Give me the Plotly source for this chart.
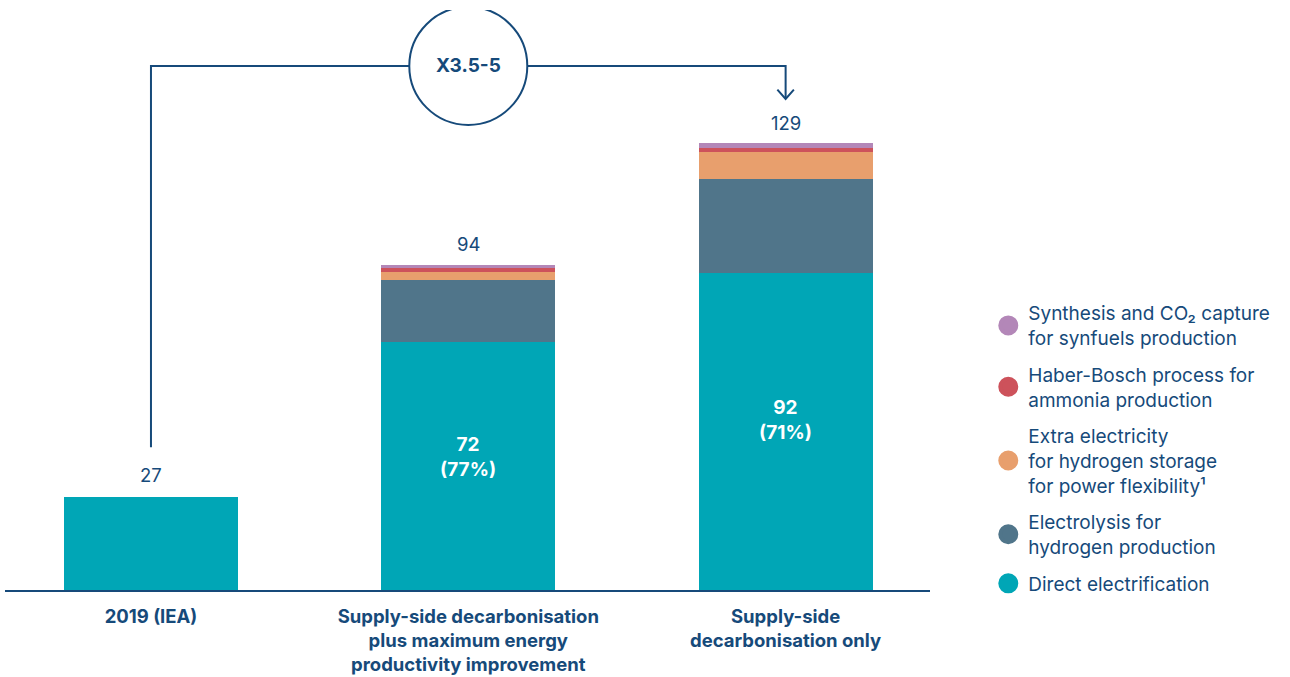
import plotly.graph_objects as go

categories = ["2019 (IEA)",
              "Supply-side decarbonisation<br>plus maximum energy<br>productivity improvement",
              "Supply-side<br>decarbonisation only"]
direct = [27, 72, 92]
electrolysis = [0, 17.8, 27.2]
extra_elec = [0, 2.3, 7.8]
haber = [0, 1.1, 1.1]
synthesis = [0, 0.9, 1.4]
totals = [27, 94, 129]
shares = ["", "77%", "71%"]
multiplier = "X3.5-5"

series = [
    ("Direct electrification", direct, "#00a6b6"),
    ("Electrolysis for<br>hydrogen production", electrolysis, "#50758a"),
    ("Extra electricity<br>for hydrogen storage<br>for power flexibility¹", extra_elec, "#e89f6d"),
    ("Haber-Bosch process for<br>ammonia production", haber, "#cd525b"),
    ("Synthesis and CO₂ capture<br>for synfuels production", synthesis, "#b387b8"),
]

DARK = "#164a7a"
FONT = "Inter"
xs = list(range(len(categories)))

fig = go.Figure()
for name, vals, col in series:
    fig.add_trace(go.Bar(x=xs, y=vals, marker=dict(color=col, line=dict(width=0)),
                         width=0.548, showlegend=False, hoverinfo="skip"))
# legend-only circle markers, top item first
for k, (name, vals, col) in enumerate(reversed(series)):
    fig.add_trace(go.Scatter(x=[None], y=[None], mode="markers", name=name,
                             legendgroup=f"g{k}",
                             marker=dict(symbol="circle", size=22, color=col,
                                         line=dict(width=4, color=col))))

ann = []
for i, t in enumerate(totals):
    ann.append(dict(x=xs[i], y=t, xref="x", yref="y", text=str(t), showarrow=False,
                    yanchor="bottom", yshift=9, font=dict(family=FONT, size=18.5, color=DARK)))
for i, s in enumerate(shares):
    if s:
        ann.append(dict(x=xs[i], y=direct[i] * 0.535, xref="x", yref="y",
                        text=f"<b>{direct[i]}<br>({s})</b>", showarrow=False,
                        font=dict(family=FONT, size=19, color="white")))
ann.append(dict(x=1, y=151.9, xref="x", yref="y", text=f"<b>{multiplier}</b>", showarrow=False,
                font=dict(family=FONT, size=19, color=DARK)))

shapes = [
    dict(type="path", xref="x", yref="y",
         path="M 0,41.4 L 0,151.9 L 2,151.9 L 2,142.6",
         line=dict(color=DARK, width=2)),
    dict(type="path", xref="x", yref="y",
         path="M 1.974,145 L 2,142.3 L 2.026,145",
         line=dict(color=DARK, width=2)),
    dict(type="circle", xref="x", yref="y", xsizemode="pixel", ysizemode="pixel",
         xanchor=1, yanchor=151.9, x0=-59, x1=59, y0=-59, y1=59,
         line=dict(color=DARK, width=2), fillcolor="white", layer="above"),
]

fig.update_layout(
    width=1290, height=677,
    margin=dict(l=5, r=360, t=10, b=87, autoexpand=False),
    barmode="stack", bargap=0,
    plot_bgcolor="white", paper_bgcolor="white",
    font=dict(family=FONT, color=DARK),
    xaxis=dict(range=[-0.46, 2.455], tickvals=xs,
               ticktext=[f"<b>{c}</b>" for c in categories],
               tickfont=dict(family=FONT, size=18.5, color=DARK),
               showline=True, linecolor=DARK, linewidth=2, showgrid=False,
               ticks="", ticklabelstandoff=9, zeroline=False, automargin=False),
    yaxis=dict(range=[0, 168.1], visible=False, showgrid=False, zeroline=False),
    legend=dict(x=1.063, y=0.51, xanchor="left", yanchor="top", traceorder="grouped",
                font=dict(family=FONT, size=19, color=DARK), itemsizing="trace",
                tracegroupgap=9, bgcolor="rgba(0,0,0,0)"),
    annotations=ann, shapes=shapes, showlegend=True,
)

fig.write_html("out.html", config={"displayModeBar": False},
               post_script="document.body.style.margin='0';")
